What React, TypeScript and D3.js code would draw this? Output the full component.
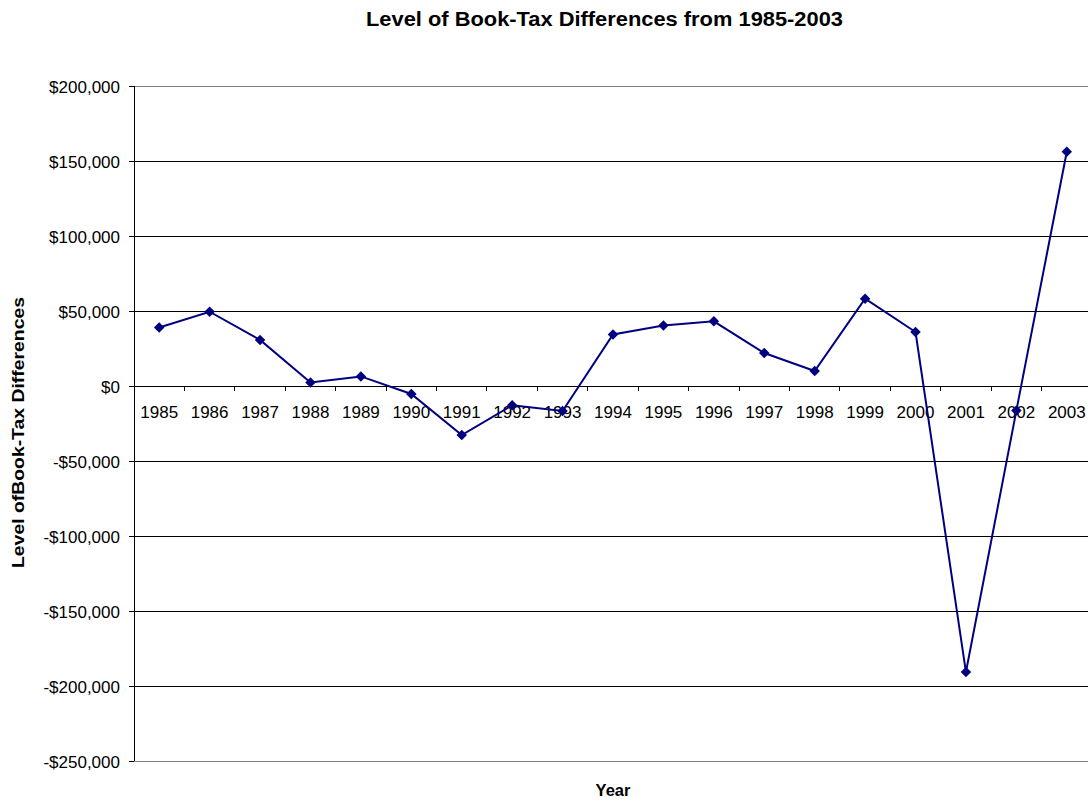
import React from "react";
import * as d3 from "d3";

const years = ["1985","1986","1987","1988","1989","1990","1991","1992","1993","1994","1995","1996","1997","1998","1999","2000","2001","2002","2003"];
const values = [39000, 49500, 30700, 2400, 6400, -5300, -32700, -12900, -16700, 34400, 40400, 43100, 22000, 10000, 58200, 36000, -190700, -16400, 156200];
const yTicks = [200000, 150000, 100000, 50000, 0, -50000, -100000, -150000, -200000, -250000];

const W = 1088, H = 803;
const left = 134, right = 1092, top = 86, bottom = 761;
const FONT = "'Liberation Sans', Arial, sans-serif";
const NAVY = "#000080";

function fmt(v: number) {
  const s = "$" + d3.format(",")(Math.abs(v));
  return v < 0 ? "-" + s : s;
}

export default function App() {
  const x = d3.scaleBand().domain(years).range([left, right]);
  const y = d3.scaleLinear().domain([-250000, 200000]).range([bottom, top]);
  const line = d3.line<number>().x((_, i) => x(years[i])! + x.bandwidth() / 2).y((d) => y(d));
  const y0 = y(0);
  const diamond = d3.symbol().type(d3.symbolDiamond2).size(70)();
  const boundaries = d3.range(years.length + 1).map((i) => left + i * x.bandwidth());
  return (
    <svg width={W} height={H} style={{ position: "absolute", left: 0, top: 0, background: "#fff" }}>
      <text x={604.5} y={26} textAnchor="middle" fontFamily={FONT} fontWeight="bold" fontSize={20}
        textLength={477} lengthAdjust="spacingAndGlyphs">
        Level of Book-Tax Differences from 1985-2003
      </text>
      <g shapeRendering="crispEdges">
        {yTicks.map((t) => (
          <g key={t}>
            <line x1={left} x2={right} y1={y(t)} y2={y(t)} stroke={t === 200000 || t === -250000 ? "#808080" : "#000"} strokeWidth={1} />
            <line x1={left - 5} x2={left} y1={y(t)} y2={y(t)} stroke="#000" />
          </g>
        ))}
        <line x1={left} x2={left} y1={top} y2={bottom} stroke="#000" />
        <line x1={left} x2={right} y1={y0} y2={y0} stroke="#000" />
        {boundaries.map((b, i) => (
          <line key={i} x1={b} x2={b} y1={y0} y2={y0 + 5} stroke="#000" />
        ))}
      </g>
      {yTicks.map((t) => (
        <text key={t} x={120} y={y(t) + 6.5} textAnchor="end" fontFamily={FONT} fontSize={17}>{fmt(t)}</text>
      ))}
      {years.map((yr) => (
        <text key={yr} x={x(yr)! + x.bandwidth() / 2} y={y0 + 32} textAnchor="middle" fontFamily={FONT} fontSize={17}>{yr}</text>
      ))}
      <path d={line(values)!} fill="none" stroke={NAVY} strokeWidth={2} />
      {values.map((v, i) => (
        <path key={i} d={diamond!} transform={`translate(${x(years[i])! + x.bandwidth() / 2},${y(v)})`} fill={NAVY} />
      ))}
      <text transform={`translate(24,432.5) rotate(-90)`} textAnchor="middle" fontFamily={FONT} fontWeight="bold" fontSize={16.5}
        textLength={271} lengthAdjust="spacingAndGlyphs">
        Level ofBook-Tax Differences
      </text>
      <text x={613} y={796} textAnchor="middle" fontFamily={FONT} fontWeight="bold" fontSize={16.5}>Year</text>
    </svg>
  );
}
